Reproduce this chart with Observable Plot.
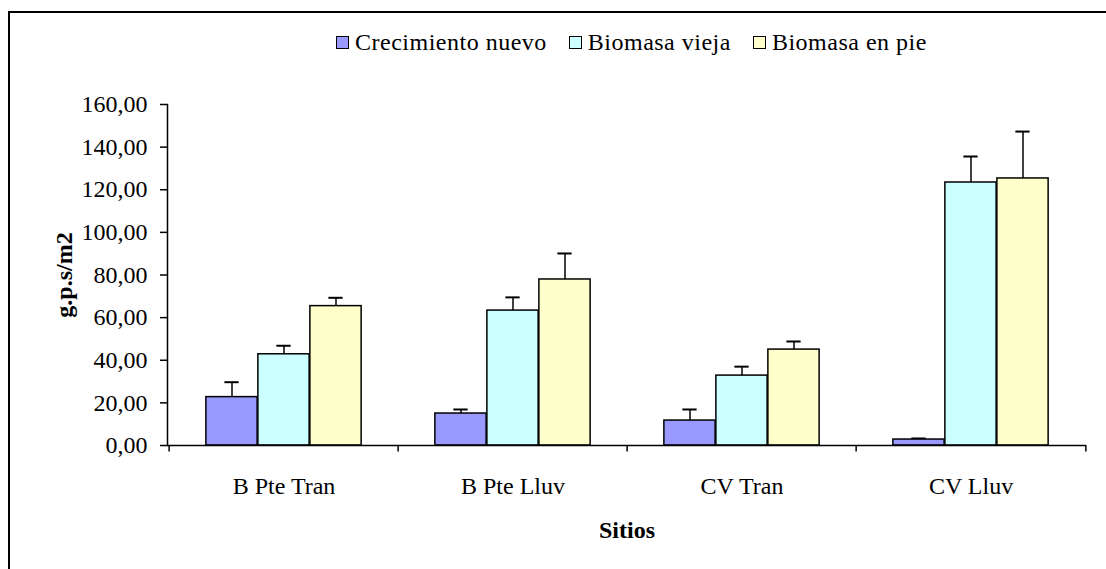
<!DOCTYPE html>
<html>
<head>
<meta charset="utf-8">
<script src="https://cdn.jsdelivr.net/npm/d3@7"></script>
<script src="https://cdn.jsdelivr.net/npm/@observablehq/plot@0.6"></script>
<style>
  html, body { margin: 0; padding: 0; background: #fff; overflow: hidden; }
  #wrap { position: relative; width: 1106px; height: 569px; overflow: hidden; font-family: "Liberation Serif", "Times New Roman", serif; }
  #border { position: absolute; left: 8px; top: 11px; width: 1200px; height: 700px; border: 2px solid #000; box-sizing: border-box; }
  #chart { position: absolute; left: 0; top: 0; }
  #legend { position: absolute; left: 336px; top: 28px; display: flex; align-items: center; font-size: 24px; line-height: 28px; letter-spacing: 0.5px; color: #000; white-space: nowrap; font-family: "Liberation Serif", serif; }
  #legend .item { display: flex; align-items: center; margin-right: 22px; }
  #legend .sw { width: 13px; height: 13px; border: 1.5px solid #000; margin-right: 6px; box-sizing: border-box; }
  svg text { font-family: "Liberation Serif", serif; }
  g[aria-label="y-axis label"] text, g[aria-label="x-axis label"] text { font-weight: bold; }
</style>
</head>
<body>
<div id="wrap">
  <div id="border"></div>
  <div id="chart"></div>
  <div id="legend"></div>
</div>
<script>
const sites = ["B Pte Tran", "B Pte Lluv", "CV Tran", "CV Lluv"];
const seriesNames = ["Crecimiento nuevo", "Biomasa vieja", "Biomasa en pie"];
const colors = ["#9999FF", "#CCFFFF", "#FFFFCC"];
const crecimientoNuevo = [22.7, 15.0, 11.7, 2.8];
const crecimientoNuevoErr = [7.0, 1.9, 5.2, 0.5];
const biomasaVieja = [42.8, 63.3, 32.8, 123.4];
const biomasaViejaErr = [4.0, 6.2, 4.2, 12.2];
const biomasaEnPie = [65.4, 77.9, 45.0, 125.3];
const biomasaEnPieErr = [3.9, 12.2, 3.8, 22.0];
const yTicks = [0, 20, 40, 60, 80, 100, 120, 140, 160];

const seriesValues = [crecimientoNuevo, biomasaVieja, biomasaEnPie];
const seriesErrs = [crecimientoNuevoErr, biomasaViejaErr, biomasaEnPieErr];

const W = 1106, H = 569;
const mL = 167, mR = 20, mT = 104, mB = 124;
const band = (W - mL - mR) / sites.length;
const barW = 52;
const gap = (band - 3 * barW) / 2;
const capW = 15;

const marks = [];
seriesNames.forEach((name, i) => {
  const data = sites.map((s, j) => ({site: s, value: seriesValues[i][j], err: seriesErrs[i][j]}));
  const left = gap + barW * i;
  const right = band - left - barW;
  marks.push(Plot.ruleX(data, {x: "site", y1: "value", y2: d => d.value + d.err, dx: (i - 1) * barW, stroke: "#000", strokeWidth: 1.5}));
  marks.push(Plot.tickY(data, {x: "site", y: d => d.value + d.err, insetLeft: left + (barW - capW) / 2, insetRight: right + (barW - capW) / 2, stroke: "#000", strokeWidth: 2}));
  marks.push(Plot.barY(data, {x: "site", y: "value", insetLeft: left, insetRight: right, fill: colors[i], stroke: "#000", strokeWidth: 1.5}));
});

const fmt = d => d.toFixed(2).replace(".", ",");

const plot = Plot.plot({
  width: W,
  height: H,
  marginLeft: mL,
  marginRight: mR,
  marginTop: mT,
  marginBottom: mB,
  style: {fontSize: "24px", color: "#000", background: "transparent"},
  x: {domain: sites, padding: 0},
  y: {domain: [0, 160], ticks: yTicks},
  marks: [
    ...marks,
    Plot.ruleY([0], {stroke: "#000", strokeWidth: 1.5}),
    Plot.frame({anchor: "left", stroke: "#000", strokeWidth: 1.5}),
    Plot.ruleX(sites, {x: d => d, y1: 0, y2: -3, dx: -band / 2, stroke: "#000", strokeWidth: 1.5, clip: false}),
    Plot.ruleX([sites[sites.length - 1]], {x: d => d, y1: 0, y2: -3, dx: band / 2, stroke: "#000", strokeWidth: 1.5, clip: false}),
    Plot.axisY({ticks: yTicks, tickFormat: fmt, tickSize: 7, tickPadding: 13, label: "g.p.s/m2", labelAnchor: "center", labelArrow: "none", labelOffset: 113, strokeWidth: 1.5}),
    Plot.axisX({tickSize: 0, tickPadding: 31, label: "Sitios", labelAnchor: "center", labelArrow: "none", labelOffset: 92})
  ]
});
document.getElementById("chart").appendChild(plot);

const legend = document.getElementById("legend");
seriesNames.forEach((name, i) => {
  const item = document.createElement("div");
  item.className = "item";
  const sw = document.createElement("div");
  sw.className = "sw";
  sw.style.background = colors[i];
  item.appendChild(sw);
  const t = document.createElement("span");
  t.textContent = name;
  item.appendChild(t);
  legend.appendChild(item);
});
</script>
</body>
</html>
